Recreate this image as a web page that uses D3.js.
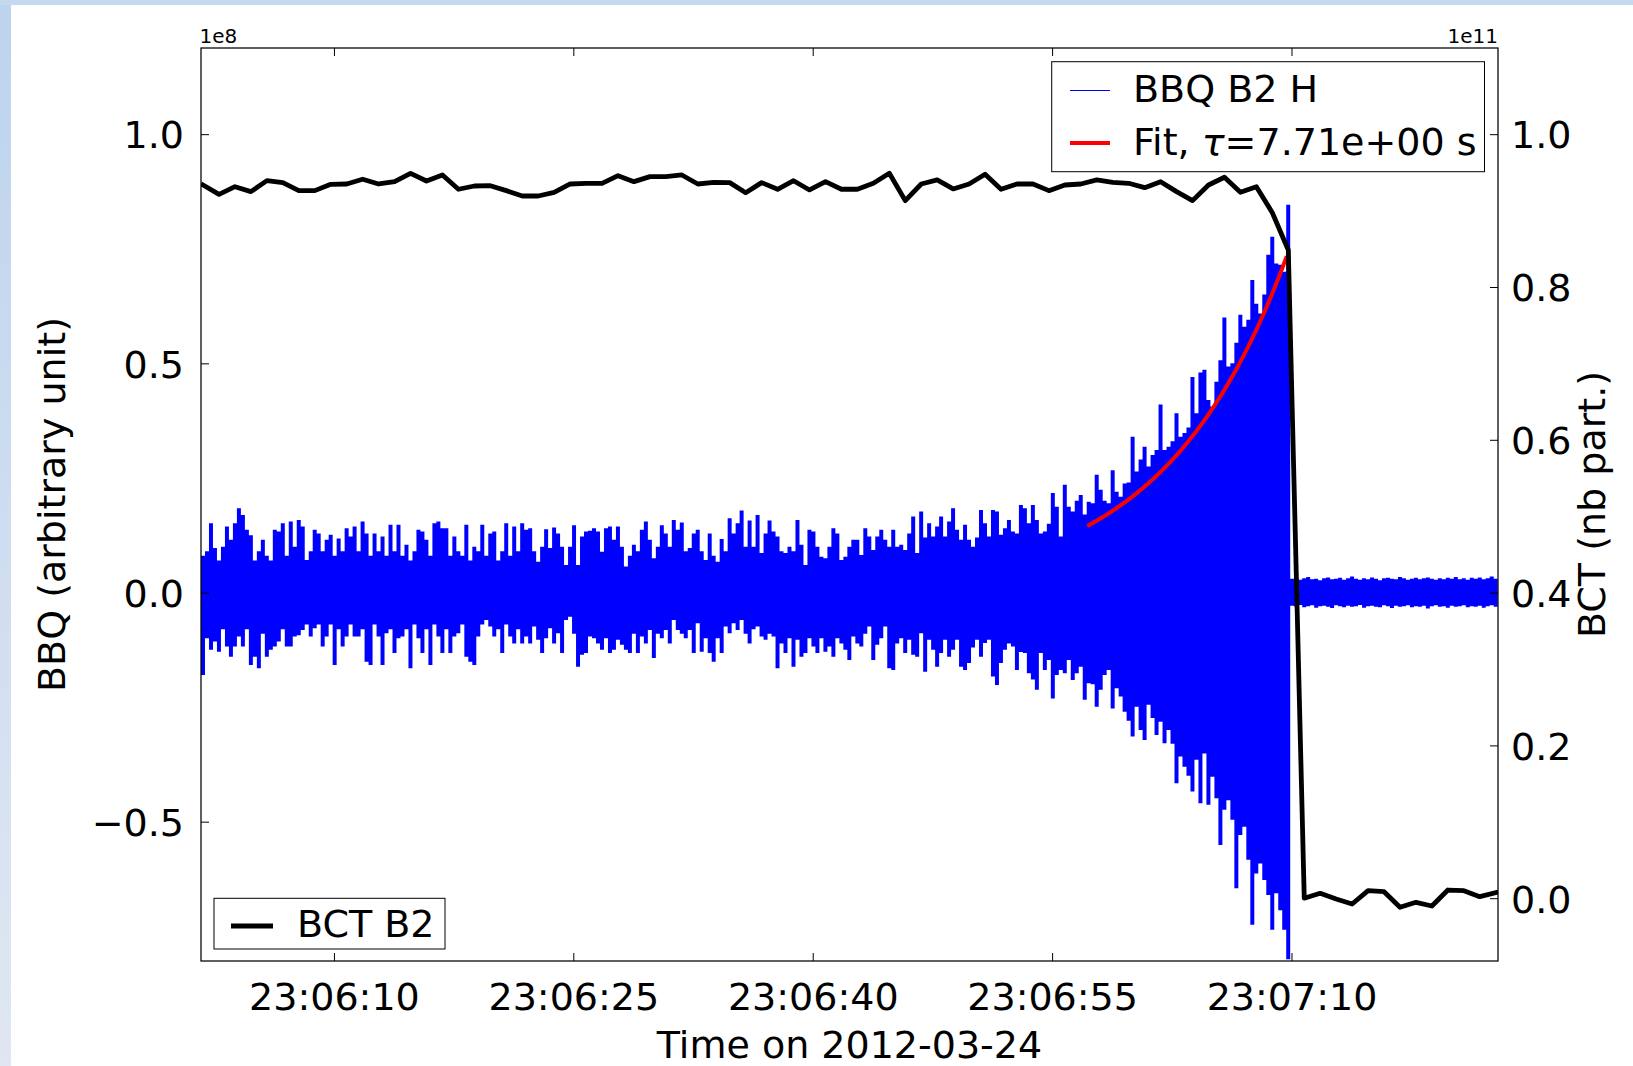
<!DOCTYPE html>
<html>
<head>
<meta charset="utf-8">
<script src="https://cdn.jsdelivr.net/npm/d3@7"></script>
<style>
  html, body { margin: 0; padding: 0; background: #ffffff; }
  svg { display: block; font-family: "DejaVu Sans", sans-serif; }
</style>
</head>
<body>
<svg id="chart" width="1633" height="1066"></svg>
<script>
// ---- data ---------------------------------------------------------------
const day = "2012-03-24";
const timeTicks = ["23:06:10", "23:06:25", "23:06:40", "23:06:55", "23:07:10"];
const timeRange = ["23:06:01.67", "23:07:22.94"];

const bbqTicks = [-0.5, 0.0, 0.5, 1.0];           // x 1e8
const bctTicks = [0.0, 0.2, 0.4, 0.6, 0.8, 1.0];  // x 1e11
const bbqRange = [-0.804, 1.188];
const bctRange = [-0.0822, 1.1128];

// BBQ B2 H: per-interval signal extremes (x 1e8), one pair every 0.25 s
const bbqStart = "23:06:01.67";
const bbqStep = 0.25;
const bbqUpper = [
  0.08, 0.09, 0.151, 0.097, 0.07, 0.10, 0.144, 0.115,
  0.151, 0.184, 0.169, 0.137, 0.125, 0.07, 0.09, 0.115,
  0.08, 0.07, 0.137, 0.133, 0.151, 0.08, 0.155, 0.10,
  0.158, 0.144, 0.071, 0.09, 0.137, 0.129, 0.09, 0.115,
  0.126, 0.08, 0.118, 0.09, 0.140, 0.122, 0.144, 0.09,
  0.155, 0.129, 0.08, 0.129, 0.09, 0.122, 0.08, 0.148,
  0.09, 0.148, 0.08, 0.104, 0.07, 0.09, 0.137, 0.133,
  0.115, 0.08, 0.151, 0.155, 0.14, 0.14, 0.08, 0.122,
  0.09, 0.08, 0.148, 0.07, 0.10, 0.09, 0.148, 0.08,
  0.129, 0.133, 0.07, 0.09, 0.151, 0.08, 0.144, 0.09,
  0.151, 0.137,
  0.140, 0.09, 0.067, 0.10, 0.138, 0.097, 0.142, 0.129,
  0.100, 0.06, 0.10, 0.147, 0.06, 0.122, 0.133, 0.135,
  0.140, 0.133, 0.089, 0.140, 0.144, 0.115, 0.144, 0.10,
  0.057, 0.08, 0.104, 0.09, 0.137, 0.155, 0.115, 0.075,
  0.10, 0.147, 0.129, 0.10, 0.158, 0.137, 0.153, 0.09,
  0.097, 0.129, 0.137, 0.09, 0.071, 0.129, 0.08, 0.067,
  0.117, 0.09, 0.162, 0.129, 0.151, 0.179, 0.10, 0.157,
  0.10, 0.169, 0.086, 0.129, 0.157, 0.133, 0.122, 0.09,
  0.086, 0.100, 0.09, 0.158, 0.104, 0.06, 0.137, 0.133,
  0.10, 0.078, 0.075, 0.10, 0.140, 0.129, 0.071, 0.078,
  0.10, 0.115, 0.115,
  0.082, 0.140, 0.122, 0.093, 0.122, 0.137, 0.115, 0.10,
  0.137, 0.100, 0.104, 0.093, 0.129, 0.166, 0.086, 0.177,
  0.12, 0.151, 0.122, 0.144, 0.166, 0.122, 0.155, 0.184,
  0.137, 0.115, 0.148, 0.115, 0.100, 0.12, 0.180, 0.151,
  0.122, 0.180, 0.177, 0.126, 0.14, 0.158, 0.133, 0.129,
  0.191, 0.184, 0.151, 0.191, 0.158, 0.129, 0.133, 0.15,
  0.217, 0.187, 0.122, 0.235, 0.187, 0.177, 0.20, 0.213,
  0.17, 0.198, 0.195, 0.257, 0.224,
  0.20, 0.195, 0.267, 0.22, 0.209, 0.238, 0.24, 0.340,
  0.264, 0.29, 0.318, 0.275, 0.30, 0.311, 0.41, 0.311,
  0.318, 0.33, 0.391, 0.340, 0.348, 0.36, 0.47, 0.391,
  0.48, 0.486, 0.42, 0.406, 0.46, 0.507, 0.60, 0.493,
  0.50, 0.545, 0.606, 0.58, 0.595, 0.682, 0.63, 0.609,
  0.65, 0.737, 0.776, 0.718, 0.715, 0.70, 0.846,
  0.030, 0.032, 0.028, 0.031, 0.034, 0.029, 0.030, 0.027,
  0.031, 0.033, 0.029, 0.030, 0.032, 0.028, 0.031, 0.035,
  0.030, 0.028, 0.031, 0.029, 0.033, 0.030, 0.027, 0.031,
  0.032, 0.030, 0.029, 0.034, 0.031, 0.028, 0.030, 0.032,
  0.029, 0.031, 0.033, 0.030, 0.028, 0.031, 0.029, 0.032,
  0.030, 0.034, 0.029, 0.031, 0.028, 0.032, 0.030, 0.033,
  0.029, 0.031, 0.035, 0.030
];
const bbqLower = [
  -0.18, -0.10, -0.125, -0.107, -0.129, -0.08, -0.118, -0.140,
  -0.118, -0.096, -0.118, -0.08, -0.158, -0.140, -0.165, -0.09,
  -0.140, -0.125, -0.118, -0.107, -0.08, -0.118, -0.118, -0.096,
  -0.093, -0.082, -0.07, -0.096, -0.078, -0.07, -0.118, -0.096,
  -0.07, -0.158, -0.08, -0.118, -0.096, -0.07, -0.096, -0.096,
  -0.08, -0.151, -0.158, -0.07, -0.096, -0.158, -0.089, -0.08,
  -0.132, -0.100, -0.096, -0.08, -0.165, -0.07, -0.100, -0.132,
  -0.08, -0.158, -0.07, -0.096, -0.132, -0.08, -0.132, -0.096,
  -0.089, -0.07, -0.140, -0.151, -0.158, -0.096, -0.07, -0.060,
  -0.074, -0.096, -0.08, -0.132, -0.07, -0.096, -0.111, -0.08,
  -0.111, -0.096,
  -0.111, -0.074, -0.103, -0.132, -0.10, -0.078, -0.111, -0.089,
  -0.132, -0.06, -0.053, -0.09, -0.162, -0.136, -0.132, -0.096,
  -0.100, -0.111, -0.125, -0.10, -0.132, -0.125, -0.103, -0.114,
  -0.125, -0.132, -0.09, -0.132, -0.096, -0.111, -0.082, -0.143,
  -0.09, -0.100, -0.082, -0.111, -0.06, -0.082, -0.09, -0.100,
  -0.082, -0.132, -0.067, -0.129, -0.10, -0.132, -0.151, -0.10,
  -0.132, -0.074, -0.089, -0.067, -0.082, -0.06, -0.09, -0.111,
  -0.08, -0.074, -0.096, -0.103, -0.09, -0.096, -0.165, -0.111,
  -0.132, -0.10, -0.162, -0.103, -0.140, -0.132, -0.10, -0.118,
  -0.132, -0.10, -0.129, -0.118, -0.140, -0.10, -0.111, -0.125,
  -0.147, -0.096, -0.111,
  -0.118, -0.09, -0.074, -0.147, -0.114, -0.10, -0.074, -0.165,
  -0.169, -0.111, -0.10, -0.132, -0.103, -0.136, -0.140, -0.089,
  -0.173, -0.103, -0.125, -0.162, -0.132, -0.103, -0.140, -0.125,
  -0.103, -0.162, -0.169, -0.154, -0.12, -0.103, -0.140, -0.11,
  -0.103, -0.183, -0.202, -0.154, -0.125, -0.111, -0.118, -0.169,
  -0.13, -0.132, -0.176, -0.19, -0.212, -0.132, -0.169, -0.147,
  -0.231, -0.18, -0.169, -0.176, -0.147, -0.191, -0.176, -0.162,
  -0.234, -0.198, -0.20, -0.249, -0.212,
  -0.180, -0.169, -0.253, -0.209, -0.227, -0.260, -0.28, -0.314,
  -0.249, -0.30, -0.322, -0.245, -0.274, -0.311, -0.282, -0.329,
  -0.30, -0.33, -0.416, -0.358, -0.380, -0.40, -0.434, -0.365,
  -0.460, -0.351, -0.463, -0.402, -0.449, -0.551, -0.474, -0.453,
  -0.496, -0.645, -0.529, -0.511, -0.583, -0.725, -0.613, -0.591,
  -0.627, -0.660, -0.736, -0.656, -0.693, -0.736, -0.80,
  -0.029, -0.031, -0.027, -0.032, -0.030, -0.028, -0.033, -0.030,
  -0.029, -0.031, -0.034, -0.028, -0.030, -0.032, -0.029, -0.031,
  -0.030, -0.027, -0.033, -0.030, -0.029, -0.031, -0.032, -0.028,
  -0.030, -0.034, -0.029, -0.031, -0.030, -0.028, -0.032, -0.030,
  -0.031, -0.029, -0.035, -0.030, -0.028, -0.031, -0.030, -0.033,
  -0.029, -0.031, -0.030, -0.028, -0.032, -0.030, -0.031, -0.029,
  -0.033, -0.030, -0.028, -0.031
];

// BCT B2 beam intensity (x 1e11), one reading per second
const bctStart = "23:06:01.80";
const bctStep = 1.0;
const bctValues = [
  0.9335, 0.9213, 0.9313, 0.9248, 0.9392, 0.9366, 0.9261, 0.9261, 0.9344, 0.9348,
  0.9410, 0.9348, 0.9379, 0.9488, 0.9387, 0.9466, 0.9279, 0.9322, 0.9326, 0.9261,
  0.9191, 0.9191, 0.9239, 0.9348, 0.9357, 0.9357, 0.9457, 0.9379, 0.9444, 0.9444,
  0.9466, 0.9348, 0.9370, 0.9366, 0.9234, 0.9366, 0.9279, 0.9391, 0.9270, 0.9378,
  0.9279, 0.9279, 0.9357, 0.9488, 0.9130, 0.9348, 0.9401, 0.9283, 0.9348, 0.9475,
  0.9279, 0.9348, 0.9348, 0.9261, 0.9335, 0.9348, 0.9401, 0.9370, 0.9357, 0.9300,
  0.9378, 0.9248, 0.9130, 0.9335, 0.9436, 0.9240, 0.9313, 0.8972, 0.8484, 0.0000,
  0.0064, -0.0010, -0.0076, 0.0098, 0.0085, -0.0119, -0.0054, -0.0102, 0.0107, 0.0098,
  0.0020, 0.0072
];

// exponential growth fit of the oscillation envelope
const fitTau = 7.71;          // s
const fitAmplitude = 0.145;   // x 1e8 at fitStart
const fitStart = "23:06:57.20";
const fitEnd = "23:07:09.70";

// ---- helpers ------------------------------------------------------------
const [yy, mo, dd] = day.split("-").map(Number);
function at(hms) {
  const [h, m, s] = hms.split(":");
  const sec = +s, whole = Math.floor(sec);
  return new Date(yy, mo - 1, dd, +h, +m, whole, Math.round((sec - whole) * 1000));
}
const addSec = (d, s) => new Date(d.getTime() + s * 1000);

// ---- layout -------------------------------------------------------------
const W = 1633, H = 1066;
const plot = { left: 201, right: 1498, top: 48, bottom: 961 };
const fontSize = 38;

const svg = d3.select("#chart");

// slide-style frame around the figure
const defs = svg.append("defs");
const grad = defs.append("linearGradient").attr("id", "edgeFade")
  .attr("x1", 0).attr("y1", 0).attr("x2", 0).attr("y2", 1);
grad.append("stop").attr("offset", 0).attr("stop-color", "#bdd3ee");
grad.append("stop").attr("offset", 1).attr("stop-color", "#e0e7f2");
svg.append("rect").attr("x", 0).attr("y", 0).attr("width", 11).attr("height", H).attr("fill", "url(#edgeFade)");
svg.append("rect").attr("x", 0).attr("y", 0).attr("width", W).attr("height", 5).attr("fill", "#c4d8ef");

defs.append("clipPath").attr("id", "plotClip").append("rect")
  .attr("x", plot.left).attr("y", plot.top)
  .attr("width", plot.right - plot.left).attr("height", plot.bottom - plot.top);

// ---- scales -------------------------------------------------------------
const x = d3.scaleTime().domain(timeRange.map(at)).range([plot.left, plot.right]);
const yBBQ = d3.scaleLinear().domain(bbqRange).range([plot.bottom, plot.top]);
const yBCT = d3.scaleLinear().domain(bctRange).range([plot.bottom, plot.top]);

// ---- BBQ signal ---------------------------------------------------------
const t0 = at(bbqStart);
const bbqData = bbqUpper.map((hi, i) => ({ t: addSec(t0, i * bbqStep), hi, lo: bbqLower[i] }));
const lastB = bbqData[bbqData.length - 1];
bbqData.push({ t: addSec(lastB.t, bbqStep), hi: lastB.hi, lo: lastB.lo });

const layer = svg.append("g").attr("clip-path", "url(#plotClip)");

layer.append("path")
  .datum(bbqData)
  .attr("fill", "#0000ff")
  .attr("d", d3.area()
    .curve(d3.curveStepAfter)
    .x(d => x(d.t))
    .y0(d => yBBQ(d.lo))
    .y1(d => yBBQ(d.hi)));

// ---- fit ----------------------------------------------------------------
const fs = at(fitStart), fe = at(fitEnd);
const fitSpan = (fe - fs) / 1000;
const fitData = d3.range(0, fitSpan + 1e-9, 0.05).map(s => ({ t: addSec(fs, s), v: fitAmplitude * Math.exp(s / fitTau) }));
layer.append("path")
  .datum(fitData)
  .attr("fill", "none")
  .attr("stroke", "#ff0000")
  .attr("stroke-width", 4)
  .attr("d", d3.line().x(d => x(d.t)).y(d => yBBQ(d.v)));

// ---- BCT ----------------------------------------------------------------
const tb = at(bctStart);
const bctData = bctValues.map((v, i) => ({ t: addSec(tb, i * bctStep), v }));
layer.append("path")
  .datum(bctData)
  .attr("fill", "none")
  .attr("stroke", "#000000")
  .attr("stroke-width", 4.8)
  .attr("stroke-linejoin", "round")
  .attr("stroke-linecap", "square")
  .attr("d", d3.line().x(d => x(d.t)).y(d => yBCT(d.v)));

// ---- axes ---------------------------------------------------------------
const tickDates = timeTicks.map(at);
function styleAxis(g) {
  g.attr("font-family", "DejaVu Sans").attr("font-size", fontSize).attr("color", "#000");
  g.select(".domain").remove();
  g.selectAll(".tick line").attr("stroke-width", 1);
}

svg.append("g").attr("transform", `translate(0,${plot.bottom})`)
  .call(d3.axisBottom(x).tickValues(tickDates).tickFormat(d3.timeFormat("%H:%M:%S"))
    .tickSizeInner(-8).tickSizeOuter(0).tickPadding(20))
  .call(styleAxis)
  .call(g => g.selectAll("text").attr("y", 48.5).attr("dy", null));

svg.append("g").attr("transform", `translate(0,${plot.top})`)
  .call(d3.axisTop(x).tickValues(tickDates).tickFormat(() => "")
    .tickSizeInner(-8).tickSizeOuter(0))
  .call(styleAxis);

svg.append("g").attr("transform", `translate(${plot.left},0)`)
  .call(d3.axisLeft(yBBQ).tickValues(bbqTicks).tickFormat(d3.format(".1f"))
    .tickSizeInner(-8).tickSizeOuter(0).tickPadding(17))
  .call(styleAxis)
  .call(g => g.selectAll("text").attr("dy", 13.8));

svg.append("g").attr("transform", `translate(${plot.right},0)`)
  .call(d3.axisRight(yBCT).tickValues(bctTicks).tickFormat(d3.format(".1f"))
    .tickSizeInner(-8).tickSizeOuter(0).tickPadding(13))
  .call(styleAxis)
  .call(g => g.selectAll("text").attr("dy", 13.8));

// frame
svg.append("rect")
  .attr("x", plot.left).attr("y", plot.top)
  .attr("width", plot.right - plot.left).attr("height", plot.bottom - plot.top)
  .attr("fill", "none").attr("stroke", "#000").attr("stroke-width", 1.25);

// scale multipliers
svg.append("text").attr("x", 199.5).attr("y", 42.7).attr("font-size", 20).text("1e8");
svg.append("text").attr("x", 1498).attr("y", 42.7).attr("font-size", 20)
  .attr("text-anchor", "end").text("1e11");

// axis titles
svg.append("text").attr("x", (plot.left + plot.right) / 2).attr("y", 1058)
  .attr("font-size", fontSize).attr("text-anchor", "middle").text("Time on " + day);
svg.append("text").attr("transform", `translate(64.5,${(plot.top + plot.bottom) / 2}) rotate(-90)`)
  .attr("font-size", fontSize).attr("text-anchor", "middle").text("BBQ (arbitrary unit)");
svg.append("text").attr("transform", `translate(1605,${(plot.top + plot.bottom) / 2}) rotate(-90)`)
  .attr("font-size", fontSize).attr("text-anchor", "middle").text("BCT (nb part.)");

// ---- legends ------------------------------------------------------------
const leg1 = svg.append("g");
leg1.append("rect").attr("x", 1051.7).attr("y", 61.7).attr("width", 432.8).attr("height", 110)
  .attr("fill", "#fff").attr("stroke", "#000").attr("stroke-width", 1);
leg1.append("line").attr("x1", 1070).attr("x2", 1110).attr("y1", 90.5).attr("y2", 90.5)
  .attr("stroke", "#0000ff").attr("stroke-width", 1);
leg1.append("text").attr("x", 1133).attr("y", 102).attr("font-size", fontSize).text("BBQ B2 H");
leg1.append("line").attr("x1", 1070).attr("x2", 1110).attr("y1", 143).attr("y2", 143)
  .attr("stroke", "#ff0000").attr("stroke-width", 4);
const fitLabel = leg1.append("text").attr("x", 1133).attr("y", 155).attr("font-size", fontSize);
fitLabel.append("tspan").text("Fit, ");
fitLabel.append("tspan").attr("font-style", "italic").text("τ");
fitLabel.append("tspan").text("=" + d3.format(".2e")(fitTau).replace(/e([+-])(\d)$/, "e$10$2") + " s");

const leg2 = svg.append("g");
leg2.append("rect").attr("x", 214).attr("y", 898.3).attr("width", 231).attr("height", 50.7)
  .attr("fill", "#fff").attr("stroke", "#000").attr("stroke-width", 1);
leg2.append("line").attr("x1", 231).attr("x2", 273).attr("y1", 926).attr("y2", 926)
  .attr("stroke", "#000").attr("stroke-width", 4.8);
leg2.append("text").attr("x", 297).attr("y", 937).attr("font-size", fontSize).text("BCT B2");
</script>
</body>
</html>
